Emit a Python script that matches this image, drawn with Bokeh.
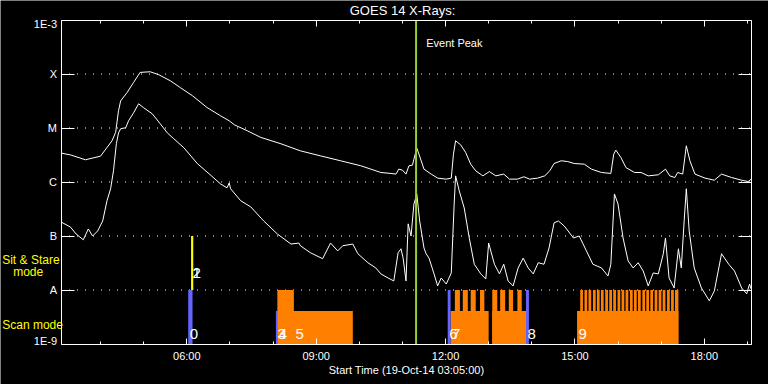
import math
from bokeh.plotting import figure
from bokeh.models import (Range1d, FixedTicker, LinearAxis, LogAxis, Grid,
                          CustomJSTickFormatter, Label)
from bokeh.core.properties import value
from bokeh.embed import file_html
from bokeh.resources import INLINE

# ---------------- data ----------------
start_time = "03:05"
end_time = "19:05"
title_text = "GOES 14 X-Rays:"
xlabel_text = "Start Time (19-Oct-14 03:05:00)"

# GOES 1-8 A (upper curve)
long_times = ["03:05","03:18","03:39","04:00","04:09","04:16","04:21","04:25","04:28","04:37",
              "04:46","04:55","05:09","05:21","05:37","05:51","06:08","06:28","06:47","06:59",
              "07:06","07:24","07:43","08:11","08:38","09:06","09:34","10:02","10:30","10:44",
              "10:51","10:55","11:00","11:05","11:09","11:14","11:16","11:20","11:23","11:30",
              "11:40","11:49","12:01","12:08","12:11","12:14","12:21","12:28","12:35","12:42",
              "12:52","13:01","13:10","13:21","13:29","13:40","13:49","13:57","14:08","14:18",
              "14:25","14:31","14:41","14:50","14:59","15:13","15:23","15:37","15:50","15:54",
              "15:57","16:04","16:11","16:23","16:32","16:42","16:56","17:06","17:12","17:19",
              "17:23","17:30","17:35","17:40","17:47","18:01","18:14","18:24","18:38","18:52",
              "19:01","19:05"]
long_flux = [3.43e-6,3.18e-6,2.58e-6,3.01e-6,4.36e-6,5.8e-6,8.3e-6,2.08e-5,3.19e-5,4.55e-5,
             6.97e-5,1.07e-4,1.10e-4,9.7e-5,7.5e-5,5.6e-5,3.95e-5,2.4e-5,1.68e-5,1.36e-5,
             1.15e-5,8.9e-6,6.7e-6,5.1e-6,3.78e-6,3.05e-6,2.47e-6,2.0e-6,1.5e-6,1.44e-6,
             1.40e-6,1.73e-6,1.66e-6,1.40e-6,1.99e-6,2.05e-6,2.65e-6,4.24e-6,3.28e-6,1.73e-6,
             1.40e-6,1.18e-6,1.13e-6,1.18e-6,3.28e-6,5.8e-6,4.89e-6,3.52e-6,2.14e-6,1.61e-6,
             1.30e-6,1.56e-6,1.30e-6,1.40e-6,1.13e-6,1.13e-6,1.25e-6,1.13e-6,1.18e-6,1.30e-6,
             1.61e-6,2.20e-6,2.47e-6,2.39e-6,2.20e-6,2.14e-6,1.73e-6,1.50e-6,1.44e-6,3.28e-6,
             3.89e-6,2.84e-6,1.85e-6,1.50e-6,1.50e-6,1.30e-6,1.36e-6,1.73e-6,1.30e-6,1.21e-6,
             1.50e-6,1.40e-6,4.68e-6,2.47e-6,1.40e-6,1.18e-6,1.08e-6,1.40e-6,1.21e-6,1.08e-6,
             1.02e-6,1.12e-6]

# GOES 0.5-4 A (lower curve)
short_times = ["03:05","03:18","03:26","03:36","03:43","03:49","03:56","04:03","04:09","04:14",
               "04:18","04:22","04:25","04:28","04:35","04:39","04:46","04:53","05:00","05:12",
               "05:23","05:33","05:42","05:56","06:15","06:31","06:47","06:56","06:59","07:01",
               "07:15","07:29","07:47","08:06","08:25","08:36","08:38","08:52","09:09","09:20",
               "09:30","09:37","09:51","09:58","10:12","10:23","10:30","10:40","10:48","10:54",
               "10:58","11:01","11:05","11:08","11:12","11:16","11:20","11:24","11:30","11:33",
               "11:37","11:44","11:49","11:54","12:01","12:08","12:12","12:14","12:19","12:26",
               "12:33","12:40","12:49","12:56","13:00","13:08","13:15","13:21","13:27","13:34",
               "13:41","13:48","13:55","14:02","14:09","14:17","14:24","14:31","14:37","14:45",
               "14:58","15:06","15:16","15:25","15:37","15:46","15:50","15:55","16:00","16:07",
               "16:14","16:21","16:28","16:35","16:42","16:49","16:56","17:03","17:06","17:11",
               "17:18","17:24","17:28","17:32","17:35","17:39","17:46","17:56","18:07","18:14",
               "18:24","18:34","18:42","18:52","18:59","19:03","19:05"]
short_flux = [1.82e-7,1.47e-7,1.09e-7,8.5e-8,1.35e-7,1.0e-7,1.24e-7,1.9e-7,4.5e-7,7.5e-7,
              1.61e-6,5.1e-6,8.1e-6,9.7e-6,1.01e-5,1.36e-5,1.91e-5,2.81e-5,2.37e-5,1.83e-5,
              1.20e-5,8.1e-6,6.3e-6,4.3e-6,2.17e-6,1.42e-6,9.2e-7,7.8e-7,9.6e-7,7.5e-7,
              4.5e-7,3.46e-7,1.9e-7,1.09e-7,7.1e-8,7.4e-8,6.6e-8,4.9e-8,3.8e-8,7.4e-8,
              5.3e-8,6.6e-8,7.1e-8,4.7e-8,3.2e-8,2.56e-8,1.99e-8,1.67e-8,1.47e-8,4.9e-8,
              5.8e-8,3.9e-8,1.47e-8,1.68e-7,1.0e-7,3.9e-7,6.0e-7,1.9e-7,6.0e-8,4.7e-8,
              3.9e-8,1.99e-8,1.19e-8,1.67e-8,1.29e-8,2.07e-8,3.9e-7,1.30e-6,6.9e-7,3.3e-7,
              9.2e-8,3.0e-8,1.99e-8,1.60e-8,7.4e-8,3.0e-8,1.99e-8,3.0e-8,1.47e-8,1.19e-8,
              2.56e-8,3.9e-8,2.56e-8,1.99e-8,3.2e-8,3.0e-8,6.0e-8,1.75e-7,1.9e-7,1.54e-7,
              9.2e-8,1.0e-7,5.3e-8,3.0e-8,2.56e-8,1.82e-8,3.0e-8,6.0e-7,3.9e-7,9.2e-8,
              3.46e-8,2.56e-8,3.2e-8,2.25e-8,1.19e-8,2.07e-8,1.99e-8,4.7e-8,9.2e-8,1.67e-8,
              1.09e-8,5.8e-8,2.56e-8,1.9e-7,7.5e-7,1.24e-7,2.56e-8,1.09e-8,6.3e-9,9.6e-9,
              4.7e-8,3.0e-8,2.25e-8,1.09e-8,8.5e-9,1.29e-8,1.05e-8]

# Y axis: GOES classes
class_values = [1e-9, 1e-8, 1e-7, 1e-6, 1e-5, 1e-4, 1e-3]
class_labels = ["1E-9", "A", "B", "C", "M", "X", "1E-3"]
grid_values = [1e-8, 1e-7, 1e-6, 1e-5, 1e-4]

# X axis ticks
xtick_times = ["06:00", "09:00", "12:00", "15:00", "18:00"]
hour_ticks = ["04:00","05:00","06:00","07:00","08:00","09:00","10:00","11:00","12:00",
              "13:00","14:00","15:00","16:00","17:00","18:00","19:00"]

# Event peak
event_peak = ["11:19"]

# Scan mode blocks (low level) and raster high segments
scan_start = ["08:06", "12:07", "13:05", "15:03"]
scan_end = ["09:51", "13:00", "13:52", "17:24"]
scan_level = [4.1e-9, 4.1e-9, 4.1e-9, 4.1e-9]

raster_start = ["08:06","12:13","12:24","12:35","12:48","13:05","13:16","13:28","13:40",
                "15:07:24","15:13:18","15:18:54","15:25:06","15:30:36","15:36:12","15:42:12",
                "15:47:48","15:53:18","15:59:18","16:04:54","16:10:30","16:16:36","16:22:12",
                "16:27:48","16:33:48","16:39:18","16:44:54","16:50:54","16:56:30","17:02:06",
                "17:08:12","17:13:48","17:19:18"]
raster_end = ["08:29","12:20","12:31","12:42","12:54","13:12","13:23","13:34","13:46",
              "15:11:12","15:17:06","15:22:42","15:28:54","15:34:24","15:40:00","15:46:00",
              "15:51:36","15:57:06","16:03:06","16:08:42","16:14:18","16:20:24","16:26:00",
              "16:31:36","16:37:36","16:43:06","16:48:42","16:54:42","17:00:18","17:05:54",
              "17:12:00","17:17:36","17:24:00"]
raster_top = 1e-8

# Observation start markers (blue)
obs_start = ["06:02", "08:04", "12:03", "13:52"]
obs_end = ["06:08", "08:06", "12:07", "13:56"]
obs_top = [1e-8, 4.1e-9, 1e-8, 1e-8]

# Sit & stare (yellow)
sit_start = ["06:06"]
sit_end = ["06:09"]
sit_bottom = [1e-8]
sit_top = [1e-7]

# Observation numbers
obs_ids = ["0", "1", "2", "3", "4", "5", "6", "7", "8", "9"]
obs_id_times = ["06:02", "06:06", "06:06", "08:04", "08:06", "08:29", "12:03", "12:07", "13:52", "15:03"]
obs_id_mode = ["scan", "sit", "sit", "scan", "scan", "scan", "scan", "scan", "scan", "scan"]


def hrs(s):
    parts = [float(v) for v in s.split(":")]
    while len(parts) < 3:
        parts.append(0.0)
    return parts[0] + parts[1] / 60.0 + parts[2] / 3600.0


FONT = "Liberation Sans"
ORANGE = "#ff8000"
BLUE = "#6464ff"
YELLOW = "#ffff00"
GREEN = "#9acd32"

W, H = 768, 384
# plot box inside the canvas (pixels)
FL, FR, FT, FB = 60.5, 750.5, 19.5, 343.5

T0, T1 = hrs(start_time), hrs(end_time)
px_per_hr = (FR - FL) / (T1 - T0)
LO, HI = math.log10(class_values[0]), math.log10(class_values[-1])
px_per_dec = (FB - FT) / (HI - LO)

x_range = Range1d(T0 - FL / px_per_hr, T1 + (W - FR) / px_per_hr)
y_range = Range1d(10 ** (LO - (H - FB) / px_per_dec), 10 ** (HI + FT / px_per_dec))


def x_at(px):
    return T0 + (px - FL) / px_per_hr


def y_at(py):
    return 10 ** (LO + (FB - py) / px_per_dec)


p = figure(width=W, height=H, x_range=x_range, y_range=y_range,
           y_axis_type="log", x_axis_location=None, y_axis_location=None,
           output_backend="svg", toolbar_location=None,
           min_border_left=0, min_border_right=0, min_border_top=0, min_border_bottom=0,
           background_fill_color="black", border_fill_color="black",
           outline_line_color=None)
for r in list(p.center):
    if isinstance(r, Grid):
        r.visible = False

xticker = FixedTicker(ticks=[hrs(t) for t in xtick_times], minor_ticks=[hrs(t) for t in hour_ticks])
yticker = FixedTicker(ticks=class_values)
blank = CustomJSTickFormatter(code="return '';")


def style_axis(ax):
    ax.axis_line_color = "white"
    ax.major_tick_line_color = "white"
    ax.minor_tick_line_color = "white"
    ax.major_label_text_color = "white"
    ax.major_label_text_font = FONT
    ax.major_label_text_font_size = "11px"


# bottom axis
xa = LinearAxis(ticker=xticker, fixed_location=class_values[0], bounds=(T0, T1))
style_axis(xa)
xa.major_label_overrides = {hrs(t): t for t in xtick_times}
xa.major_tick_in = 6
xa.major_tick_out = 0
xa.minor_tick_in = 3
xa.minor_tick_out = 0
xa.major_label_standoff = 6
xa.axis_label = xlabel_text
xa.axis_label_text_color = "white"
xa.axis_label_text_font = FONT
xa.axis_label_text_font_size = "11px"
xa.axis_label_text_font_style = "normal"
xa.axis_label_standoff = -2
p.add_layout(xa, "below")

# top axis (ticks only)
xt = LinearAxis(ticker=xticker, formatter=blank, fixed_location=class_values[-1], bounds=(T0, T1))
style_axis(xt)
xt.major_tick_in = 6
xt.major_tick_out = 0
xt.minor_tick_in = 3
xt.minor_tick_out = 0
p.add_layout(xt, "above")

# left axis (ticks; labels drawn as text below)
ya = LogAxis(ticker=yticker, formatter=blank, fixed_location=T0,
             bounds=(class_values[0], class_values[-1]))
style_axis(ya)
ya.major_tick_in = 13
ya.major_tick_out = 0
ya.minor_tick_line_color = None
p.add_layout(ya, "left")

# right axis (ticks only)
yr = LogAxis(ticker=yticker, formatter=blank, fixed_location=T1,
             bounds=(class_values[0], class_values[-1]))
style_axis(yr)
yr.major_tick_in = 13
yr.major_tick_out = 0
yr.minor_tick_line_color = None
p.add_layout(yr, "right")

# class labels on the left (end labels nudged inwards, as in the original)
nudge = [-3.5 if v == class_values[0] else (3.5 if v == class_values[-1] else 0.0)
         for v in class_values]
p.text(x=T0, y=class_values, text=class_labels, y_offset=nudge, x_offset=-4,
       text_align="right", text_baseline="middle", text_color="white",
       text_font=value(FONT), text_font_size="11px")

# dotted class grid
p.segment(x0=T0, x1=T1, y0=grid_values, y1=grid_values, line_color="white",
          line_width=1, line_dash="1 7")

# scan blocks
p.quad(left=[hrs(t) for t in scan_start], right=[hrs(t) for t in scan_end],
       bottom=class_values[0], top=scan_level, fill_color=ORANGE, line_color=None)
p.quad(left=[hrs(t) for t in raster_start], right=[hrs(t) for t in raster_end],
       bottom=class_values[0], top=raster_top, fill_color=ORANGE, line_color=None)
# blue markers
p.quad(left=[hrs(t) for t in obs_start], right=[hrs(t) for t in obs_end],
       bottom=class_values[0], top=obs_top, fill_color=BLUE, line_color=None)
# sit & stare
p.quad(left=[hrs(t) for t in sit_start], right=[hrs(t) for t in sit_end],
       bottom=sit_bottom, top=sit_top, fill_color=YELLOW, line_color=None)

# curves
p.line([hrs(t) for t in long_times], long_flux, line_color="white", line_width=1)
p.line([hrs(t) for t in short_times], short_flux, line_color="white", line_width=1)

# event peak
ev = [hrs(t) for t in event_peak]
p.segment(x0=ev, x1=ev, y0=class_values[0], y1=class_values[-1], line_color=GREEN, line_width=2)

# observation numbers
label_y = {"scan": y_at(333.0), "sit": y_at(272.0)}
p.text(x=[hrs(t) for t in obs_id_times], y=[label_y[m] for m in obs_id_mode], text=obs_ids,
       text_color="white", text_font=value(FONT), text_font_size="15px",
       text_baseline="alphabetic", x_offset=1.5)


# free texts, placed in data space
def add_label(text, px, py, color="white", size="11px", align="left"):
    p.add_layout(Label(x=x_at(px), y=y_at(py), text=text, text_align=align,
                       text_baseline="alphabetic", text_color=color,
                       text_font=FONT, text_font_size=size))


add_label(title_text, 402, 10.0, size="13px", align="center")
add_label("Event Peak", 425.7, 42.7)
add_label("Sit & Stare", 1.7, 259, color=YELLOW, size="12px")
add_label("mode", 12.7, 271, color=YELLOW, size="12px")
add_label("Scan mode", 1.7, 324, color=YELLOW, size="12px")

open("out.html", "w").write(file_html(p, INLINE))
